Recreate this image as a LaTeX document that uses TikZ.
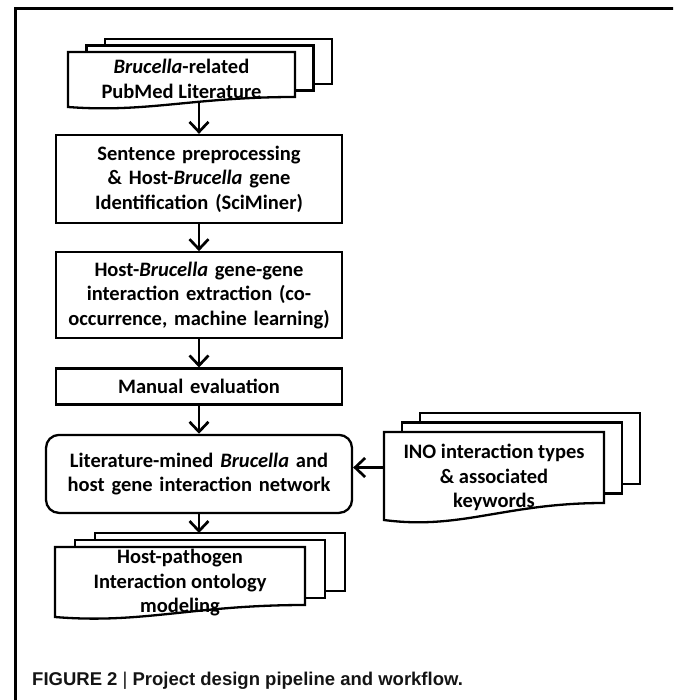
\documentclass[tikz,border=0pt]{standalone}
\usepackage{fontspec}
\setmainfont{Carlito}
\newfontfamily\capfont{Liberation Sans}
\usetikzlibrary{arrows.meta, positioning, backgrounds, calc}
\tikzset{
  procnode/.style={rectangle,draw=black,line width=2.3pt,fill=white,
    minimum width=286pt,text width=282pt,align=center,inner sep=0pt,
    font=\fontsize{20.5pt}{24.5pt}\selectfont\bfseries},
  netnode/.style={procnode,rounded corners=13pt,minimum width=306pt,minimum height=78pt},
  doctext/.style={rectangle,inner sep=0pt,align=center,
    font=\fontsize{20.5pt}{24.5pt}\selectfont\bfseries},
  page/.style={draw=black,line width=2.3pt,fill=white,line join=miter},
  arr/.style={-{Straight Barb[length=10pt,width=19pt]},line width=2.7pt},
  frameline/.style={line width=2.6pt},
  capnode/.style={anchor=base west,inner sep=0pt,text=black!92,
    font=\capfont\fontsize{18.5pt}{22pt}\selectfont\bfseries}
}

% stacked pages behind a text node: name, width, top, height, wave, dx, dy
\newcommand{\docstack}[7]{%
  \begin{scope}[on background layer,shift={(#1.center)}]
    \foreach \k in {2,1}
      \draw[page] ({-#2/2+\k*#6},{#3+\k*#7}) rectangle ++(#2,-#4);
    \draw[page] ({-#2/2},#3) -- ++(#2,0) -- ++(0,-#4)
      .. controls ({0.05*#2},{#3-#4}) and ({-0.15*#2},{#3-#4-1.6*#5})
      .. ({-#2/2},{#3-#4-#5}) -- cycle;
    \coordinate (#1-top) at (0,{#3+2*#7});
    \coordinate (#1-bot) at (0,{#3-#4-0.6*#5});
    \coordinate (#1-west) at ({-#2/2},{#3-#4/2});
  \end{scope}}

\begin{document}
\begin{tikzpicture}[x=1pt,y=1pt]
  \useasboundingbox (0,0) rectangle (673,-700);
  \clip (0,0) rectangle (673,-700);

  % frame
  \draw[frameline] (15.5,-720) |- (690,-8.5);

  % pipeline
  \node[procnode,minimum height=88pt] (prep) at (199,-179)
    {Sentence preprocessing\\ \& Host-\textit{Brucella} gene\\ Identification (SciMiner)};
  \node[procnode,minimum height=86pt,below=27pt of prep] (extr)
    {Host-\textit{Brucella} gene-gene\\ interaction extraction (co-\\ occurrence, machine learning)};
  \node[procnode,minimum height=36pt,below=28pt of extr] (eval) {Manual evaluation};
  \node[netnode,below=28pt of eval] (net)
    {Literature-mined \textit{Brucella} and\\ host gene interaction network};

  % document stacks
  \node[doctext] (lit) at (181.5,-79) {\textit{Brucella}-related\\ PubMed Literature};
  \docstack{lit}{227}{27}{45}{10}{18.5}{6.5}
  \node[doctext] (ino) at (494,-477.5) {INO interaction types\\ \& associated\\ keywords};
  \docstack{ino}{220}{45.5}{71}{17}{18}{9.5}
  \node[doctext] (model) at (180,-583) {Host-pathogen\\ Interaction ontology\\ modeling};
  \docstack{model}{250}{36}{58}{12}{20}{7}

  % arrows
  \draw[arr] (prep.north |- lit-bot) -- (prep.north);
  \draw[arr] (prep) -- (extr);
  \draw[arr] (extr) -- (eval);
  \draw[arr] (eval) -- (net);
  \draw[arr] (ino-west) -- (net.east |- ino-west);
  \draw[arr] (net.south) -- (net.south |- model-top);

  % caption
  \node[capnode] (cap) at (32,-685) {FIGURE 2 {\mdseries|} Project design pipeline and workflow.};
\end{tikzpicture}
\end{document}
